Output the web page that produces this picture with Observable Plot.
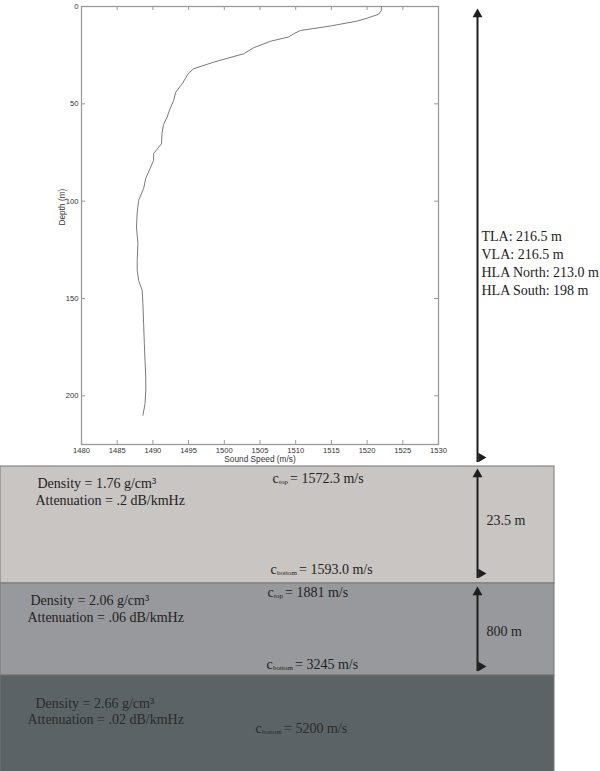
<!DOCTYPE html>
<html><head><meta charset="utf-8">
<script src="https://cdn.jsdelivr.net/npm/d3@7"></script>
<script src="https://cdn.jsdelivr.net/npm/@observablehq/plot@0.6"></script>
<style>
html,body{margin:0;padding:0;background:#fff;}
#wrap{position:relative;width:600px;height:771px;overflow:hidden;}
#wrap > svg{position:absolute;left:0;top:0;}
</style></head><body><div id="wrap"></div>
<script>
// ---------- data ----------
const depth = [0,2,4,6,7.5,10,12.3,14,15.7,17.8,21.2,24.3,28.6,32,34.2,39.7,44,48.3,53.4,56.8,60.5,64.5,70.5,75.6,79,83.3,88.3,93.5,99.6,106,113.3,121.8,130.4,135.5,140.7,145.8,152.6,163,173.2,182,190.3,197,204,210];
const soundSpeed = [1522.0,1522.0,1521.6,1520.0,1518.6,1514.9,1510.7,1509.7,1509.0,1506.5,1504.1,1502.7,1498.5,1495.7,1495.0,1494.1,1493.2,1492.9,1492.3,1492.0,1491.5,1491.3,1491.2,1490.1,1490.1,1489.6,1489.0,1488.7,1488.0,1487.8,1487.7,1487.9,1487.8,1487.8,1488.0,1488.5,1488.6,1488.7,1488.8,1488.9,1489.0,1489.0,1488.9,1488.6];
const xTicks = [1480,1485,1490,1495,1500,1505,1510,1515,1520,1525,1530];
const yTicks = [0,50,100,150,200];
const xLabel = "Sound Speed (m/s)";
const yLabel = "Depth (m)";
const arrayLabels = ["TLA: 216.5 m","VLA: 216.5 m","HLA North: 213.0 m","HLA South: 198 m"];
const layerDensity = ["1.76","2.06","2.66"];
const layerAttenuation = [".2",".06",".02"];
const layerCTop = ["1572.3","1881",null];
const layerCBottom = ["1593.0","3245","5200"];
const layerThickness = ["23.5 m","800 m",null];

// ---------- layout (schematic, pixels) ----------
const LY = {
  edges: [466, 583, 675, 772], right: 554,
  fills: ["#c9c5c2","#98999c","#5b6367"],
  textColor: ["#222","#222","#2b2b2b"],
  densX: [37,30,35], densY: [483,600,703],
  attX: [35,27,27], attY: [500,617,719],
  cTopX: [272,267,null], cTopY: [478,592,null],
  cBotX: [270,266,255], cBotY: [569,664,728],
  thickX: 486, thickY: [520,631],
  arrowX: 477,
  arrows: [ {top: 8, bottom: 462, flag: 457}, {top: 468, bottom: 578, flag: 573}, {top: 586, bottom: 671, flag: 666} ],
  labelX: 481, labelY0: 236, labelDy: 18
};

// ---------- profile plot ----------
const profile = depth.map((d, i) => ({depth: d, speed: soundSpeed[i]}));
const W = 600, H = 466, mL = 81, mR = 162, mT = 6, mB = 22;
const fw = W - mL - mR, fh = H - mT - mB, tk = 4;
const plotA = Plot.plot({
  width: W, height: H, marginLeft: mL, marginRight: mR, marginTop: mT, marginBottom: mB,
  style: {fontFamily: "'Liberation Sans', Arial, sans-serif", fontSize: "7.6px", color: "#333", background: "transparent"},
  x: {domain: [1480, 1530]},
  y: {domain: [0, 225], reverse: true},
  marks: [
    Plot.frame({stroke: "#9a9a9a", strokeWidth: 1.3}),
    Plot.ruleX(xTicks, {x: d => d, insetTop: fh - tk, stroke: "#9a9a9a"}),
    Plot.ruleX(xTicks, {x: d => d, insetBottom: fh - tk, stroke: "#9a9a9a"}),
    Plot.ruleY(yTicks, {y: d => d, insetRight: fw - tk, stroke: "#9a9a9a"}),
    Plot.ruleY(yTicks, {y: d => d, insetLeft: fw - tk, stroke: "#9a9a9a"}),
    Plot.axisX(xTicks, {anchor: "bottom", tickSize: 0, tickPadding: 3, label: null, tickFormat: d => String(d)}),
    Plot.axisY(yTicks, {anchor: "left", tickSize: 0, tickPadding: 3, label: null, tickFormat: d => String(d)}),
    Plot.text([xLabel], {frameAnchor: "bottom", dy: 17, fontSize: 8.3, fill: "#333"}),
    Plot.text([yLabel], {frameAnchor: "left", rotate: -90, dx: -19, fontSize: 8.3, fill: "#333"}),
    Plot.line(profile, {x: "speed", y: "depth", stroke: "#7a7a7a", strokeWidth: 1})
  ]
});

// ---------- schematic (layers, arrows, labels) ----------
const layers = layerDensity.map((d, i) => ({
  y1: LY.edges[i], y2: LY.edges[i+1], fill: LY.fills[i]
}));
const mainText = [], subText = [];
layerDensity.forEach((d, i) => {
  const c = LY.textColor[i];
  mainText.push({x: LY.densX[i], y: LY.densY[i], t: `Density = ${d} g/cm³`, c});
  mainText.push({x: LY.attX[i], y: LY.attY[i], t: `Attenuation = ${layerAttenuation[i]} dB/kmHz`, c});
  if (layerCTop[i] != null) {
    mainText.push({x: LY.cTopX[i], y: LY.cTopY[i], t: "c", c});
    subText.push({x: LY.cTopX[i] + 6.5, y: LY.cTopY[i] + 3.5, t: "top", c});
    mainText.push({x: LY.cTopX[i] + 17.5, y: LY.cTopY[i], t: `= ${layerCTop[i]} m/s`, c});
  }
  mainText.push({x: LY.cBotX[i], y: LY.cBotY[i], t: "c", c});
  subText.push({x: LY.cBotX[i] + 6.5, y: LY.cBotY[i] + 3.5, t: "bottom", c});
  mainText.push({x: LY.cBotX[i] + 28.5, y: LY.cBotY[i], t: `= ${layerCBottom[i]} m/s`, c});
  if (layerThickness[i] != null) mainText.push({x: LY.thickX, y: LY.thickY[i], t: layerThickness[i], c: "#222"});
});
arrayLabels.forEach((t, i) => mainText.push({x: LY.labelX, y: LY.labelY0 + i * LY.labelDy, t, c: "#222"}));

const arrows = LY.arrows.map(a => ({x: LY.arrowX, ...a}));
const plotB = Plot.plot({
  width: 600, height: 771, margin: 0,
  x: {type: "identity", axis: null}, y: {type: "identity", axis: null},
  style: {fontFamily: "'Liberation Serif', 'Times New Roman', serif", background: "transparent"},
  marks: [
    Plot.rect(layers, {x1: 0, x2: LY.right, y1: "y1", y2: "y2", fill: "fill", stroke: "#777", strokeWidth: 1}),
    Plot.ruleX(arrows, {x: "x", y1: d => d.top + 6, y2: "bottom", stroke: "#1e1e1e", strokeWidth: 2}),
    Plot.dot(arrows, {x: "x", y: d => d.top + 5.8, symbol: "triangle", r: 3.7, fill: "#1e1e1e", stroke: null}),
    Plot.dot(arrows, {x: d => d.x + 3.5, y: "flag", symbol: "triangle", r: 3.5, rotate: 90, fill: "#1e1e1e", stroke: null}),
    Plot.text(mainText, {x: "x", y: "y", text: "t", fill: "c", textAnchor: "start", fontSize: 14}),
    Plot.text(subText, {x: "x", y: "y", text: "t", fill: "c", textAnchor: "start", fontSize: 7})
  ]
});

const wrap = document.getElementById("wrap");
wrap.appendChild(plotB);
wrap.appendChild(plotA);
</script></body></html>
